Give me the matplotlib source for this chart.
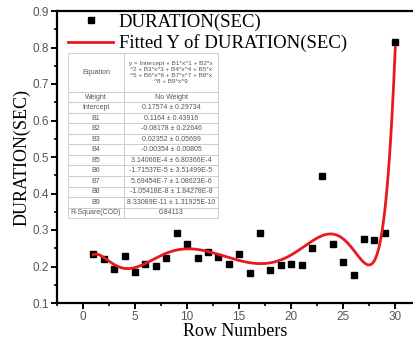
import numpy as np
import matplotlib
matplotlib.use('Agg')
import matplotlib.pyplot as plt
from matplotlib.ticker import MultipleLocator

# data
rows = list(range(1, 31))
duration = [0.235, 0.220, 0.193, 0.228, 0.185, 0.207, 0.201, 0.223, 0.291, 0.261,
            0.223, 0.239, 0.226, 0.207, 0.234, 0.182, 0.291, 0.190, 0.204, 0.207,
            0.204, 0.250, 0.447, 0.261, 0.212, 0.177, 0.275, 0.272, 0.291, 0.816]

table_names = ['Equation', 'Weight', 'Intercept', 'B1', 'B2', 'B3', 'B4', 'B5',
               'B6', 'B7', 'B8', 'B9', 'R-Square(COD)']
table_values = ['y = Intercept + B1*x^1 + B2*x\n^2 + B3*x^3 + B4*x^4 + B5*x\n'
                '^5 + B6*x^6 + B7*x^7 + B8*x\n^8 + B9*x^9',
                'No Weight', '0.17574 \u00b1 0.29734', '0.1164 \u00b1 0.43916',
                '-0.08178 \u00b1 0.22646', '0.02352 \u00b1 0.05699',
                '-0.00354 \u00b1 0.00805', '3.14066E-4 \u00b1 6.80366E-4',
                '-1.71537E-5 \u00b1 3.51499E-5', '5.69454E-7 \u00b1 1.08623E-6',
                '-1.05418E-8 \u00b1 1.84278E-8', '8.33089E-11 \u00b1 1.31925E-10',
                '0.84113']

# 9th order polynomial fit, like the original
coef = np.polyfit(rows, duration, 9)
xs = np.linspace(1, 30, 400)
ys = np.polyval(coef, xs)

fig = plt.figure(figsize=(4.14, 3.43), dpi=100)
ax = fig.add_axes([57 / 414, 40 / 343, (414 - 57) / 414, 292 / 343])

ax.plot(rows, duration, 's', color='black', ms=5, label='DURATION(SEC)')
ax.plot(xs, ys, color='#e8191b', lw=2, label='Fitted Y of DURATION(SEC)')

ax.set_xlim(-2.5, 31.8)
ax.set_ylim(0.1, 0.9)
ax.xaxis.set_major_locator(MultipleLocator(5))
ax.xaxis.set_minor_locator(MultipleLocator(2.5))
ax.yaxis.set_minor_locator(MultipleLocator(0.05))
ax.set_yticks(np.arange(0.1, 0.95, 0.1))
ax.set_yticklabels(['%.1f' % v for v in np.arange(0.1, 0.95, 0.1)])

for s in ax.spines.values():
    s.set_linewidth(1.6)
ax.spines['right'].set_visible(False)
ax.tick_params(which='major', length=4, width=1.4, labelsize=8.5, labelcolor='#555555',
               pad=2)
ax.tick_params(which='minor', length=2.5, width=1.2)
for lab in ax.get_xticklabels() + ax.get_yticklabels():
    lab.set_family('Liberation Sans')

ax.set_xlabel('Row Numbers', family='Liberation Serif', fontsize=13, labelpad=0)
ax.set_ylabel('DURATION(SEC)', family='Liberation Serif', fontsize=13, labelpad=1)

leg = ax.legend(loc='upper left', bbox_to_anchor=(0.0, 1.03), frameon=False,
                prop={'family': 'Liberation Serif', 'size': 13.5},
                handlelength=2.4, handletextpad=0.3, labelspacing=0.2,
                borderaxespad=0.2)

tbl = ax.table(cellText=[[n, v] for n, v in zip(table_names, table_values)],
               colWidths=[56, 94], cellLoc='center',
               bbox=[0.031, 0.291, 0.42, 0.565])
tbl.auto_set_font_size(False)
tbl.set_fontsize(5)
for (r, c), cell in tbl.get_celld().items():
    cell.set_edgecolor('#c8c8c8')
    cell.set_linewidth(0.6)
    cell.get_text().set_color('#555555')
    cell.get_text().set_family('Liberation Sans')
    cell.set_height(3.7 if r == 0 else 1.0)
tbl[0, 1].get_text().set_fontsize(4.6)

fig.savefig('out.png', dpi=100)
